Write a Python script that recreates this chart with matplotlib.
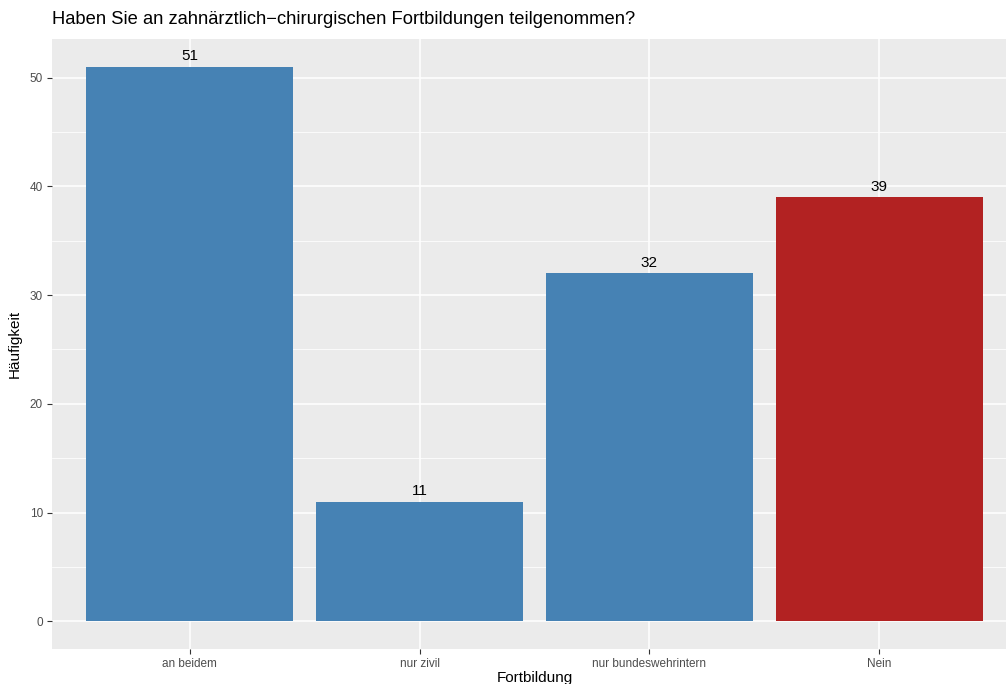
import matplotlib

matplotlib.use("Agg")
import matplotlib.pyplot as plt
from matplotlib.ticker import MultipleLocator

# -----------------------------
# Data
# -----------------------------
categories = ["an beidem", "nur zivil", "nur bundeswehrintern", "Nein"]
counts = [51, 11, 32, 39]
bar_colors = ["#4682B4", "#4682B4", "#4682B4", "#B22222"]

plt.rcParams["font.family"] = ["Liberation Sans", "DejaVu Sans"]

W, H = 1006, 684
fig = plt.figure(figsize=(W / 100, H / 100), dpi=100)

# panel spans past the right edge as in the reference crop
left, right, top, bottom = 52, 1017, 39, 649
ax = fig.add_axes([left / W, 1 - bottom / H, (right - left) / W, (bottom - top) / H])
ax.set_facecolor("#EBEBEB")

x = list(range(1, len(categories) + 1))
ax.bar(x, counts, width=0.9, color=bar_colors, zorder=3)

for xi, c in zip(x, counts):
    ax.text(xi, c + 0.3, str(c), ha="center", va="bottom", fontsize=11, color="black", zorder=4)

ax.set_xlim(0.4, len(categories) + 0.6)
ax.set_ylim(-2.55, 53.55)
ax.set_xticks(x)
ax.set_xticklabels(categories)
ax.yaxis.set_major_locator(MultipleLocator(10))
ax.yaxis.set_minor_locator(MultipleLocator(5))

ax.grid(which="major", color="white", linewidth=1.1, zorder=0)
ax.grid(which="minor", axis="y", color="white", linewidth=0.55, zorder=0)
ax.set_axisbelow(True)

for s in ax.spines.values():
    s.set_visible(False)

ax.tick_params(axis="both", which="major", length=3.5, width=0.8, color="#333333",
               labelsize=8.5, labelcolor="#4D4D4D", pad=3)
ax.tick_params(axis="y", which="minor", length=0)

ax.set_xlabel("Fortbildung", fontsize=11, labelpad=1)
ax.set_ylabel("Häufigkeit", fontsize=11, labelpad=6)

fig.text(left / W, 1 - 20 / H, "Haben Sie an zahnärztlich\u2212chirurgischen Fortbildungen teilgenommen?",
         fontsize=13.2, ha="left", va="center")

plt.savefig("out.png", dpi=100)
plt.close()
